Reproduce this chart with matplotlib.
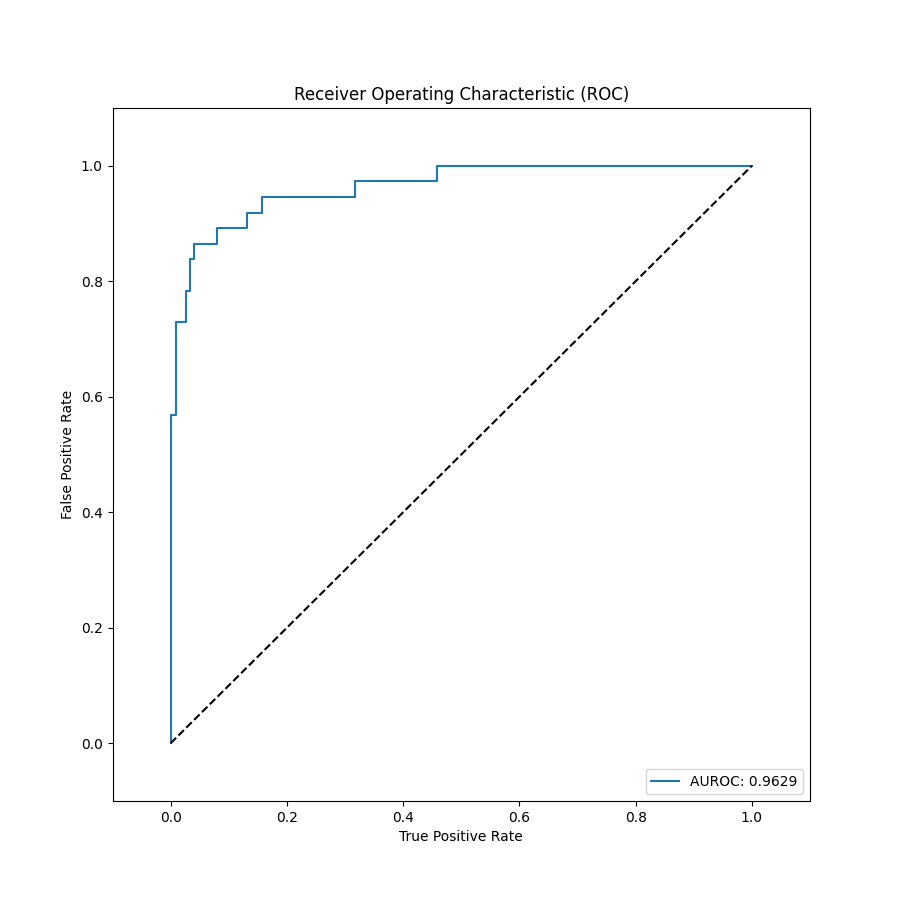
import matplotlib
matplotlib.use("Agg")
import matplotlib.pyplot as plt

fpr = [0.0, 0.0, 0.0088, 0.0088, 0.026, 0.026, 0.033, 0.033, 0.041, 0.041, 0.079, 0.079,
       0.132, 0.132, 0.158, 0.158, 0.318, 0.318, 0.459, 0.459, 1.0]
tpr = [0.0, 21/37, 21/37, 27/37, 27/37, 29/37, 29/37, 31/37, 31/37, 32/37, 32/37, 33/37,
       33/37, 34/37, 34/37, 35/37, 35/37, 36/37, 36/37, 1.0, 1.0]
auroc = 0.9629

fig, ax = plt.subplots(figsize=(9, 9), dpi=100)
ax.plot(fpr, tpr, label=f"AUROC: {auroc:.4f}")
ax.plot([0, 1], [0, 1], "k--")
ax.set_xlim(-0.1, 1.1)
ax.set_ylim(-0.1, 1.1)
ax.set_xlabel("True Positive Rate")
ax.set_ylabel("False Positive Rate")
ax.set_title("Receiver Operating Characteristic (ROC)")
ax.legend(loc="lower right")
fig.savefig("out.png")
